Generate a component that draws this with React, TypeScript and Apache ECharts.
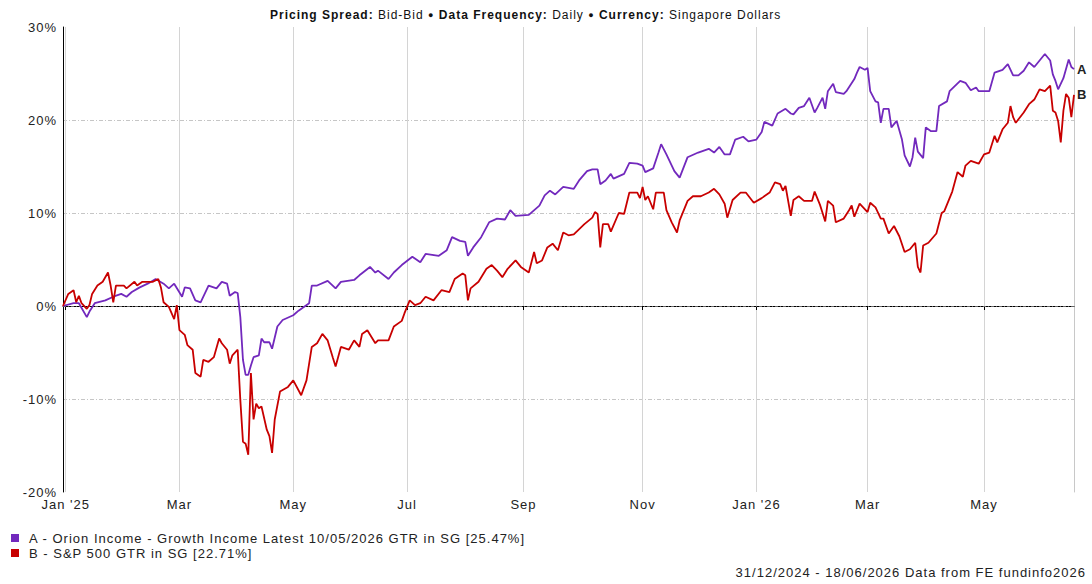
import React, { useEffect, useRef } from "react";
import * as echarts from "echarts";

const FONT = '"Liberation Sans", Arial, Helvetica, sans-serif';
// Extra tracking applied to every label (the chart's text is set slightly wide)
const TRACKING = 1;

const START_DATE = "2024-12-31";
const END_DATE = "2026-06-18";
const MONTH_NAMES = ["Jan", "Feb", "Mar", "Apr", "May", "Jun", "Jul", "Aug", "Sep", "Oct", "Nov", "Dec"];

const Y_MIN = -20;
const Y_MAX = 30;
const Y_STEP = 10;

const COLOR_A = "#7229bd";
const COLOR_B = "#c80000";

const NAME_A = "A - Orion Income - Growth Income Latest 10/05/2026 GTR in SG [25.47%]";
const NAME_B = "B - S&P 500 GTR in SG [22.71%]";
const FOOTER = "31/12/2024 - 18/06/2026 Data from FE fundinfo2026";

// Cumulative total return (%), fund A
const fundA: [string, number][] = [
  ["2024-12-31", 0.0], ["2025-01-06", 0.3], ["2025-01-08", 0.3], ["2025-01-13", -1.2], ["2025-01-14", -0.6],
  ["2025-01-16", 0.3], ["2025-01-22", 0.6], ["2025-01-27", 1.0], ["2025-01-30", 1.3], ["2025-02-03", 1.0],
  ["2025-02-05", 1.5], ["2025-02-10", 2.0], ["2025-02-13", 2.4], ["2025-02-18", 2.9], ["2025-02-21", 2.4],
  ["2025-02-25", 1.9], ["2025-02-27", 2.4], ["2025-03-04", 1.0], ["2025-03-05", 2.0], ["2025-03-07", 1.9],
  ["2025-03-11", 0.6], ["2025-03-13", 0.4], ["2025-03-18", 2.2], ["2025-03-21", 1.9], ["2025-03-25", 2.6],
  ["2025-03-27", 2.4], ["2025-03-28", 1.1], ["2025-04-01", 1.5], ["2025-04-02", 1.4], ["2025-04-03", -1.2],
  ["2025-04-04", -5.8], ["2025-04-07", -7.4], ["2025-04-08", -7.4], ["2025-04-09", -6.4], ["2025-04-10", -5.5],
  ["2025-04-14", -5.3], ["2025-04-15", -3.5], ["2025-04-16", -3.9], ["2025-04-18", -3.9], ["2025-04-21", -4.6],
  ["2025-04-23", -2.2], ["2025-04-25", -1.5], ["2025-05-01", -1.0], ["2025-05-05", -0.5], ["2025-05-09", 0.3],
  ["2025-05-12", 2.2], ["2025-05-14", 2.2], ["2025-05-20", 2.7], ["2025-05-23", 1.9], ["2025-05-27", 2.6],
  ["2025-06-03", 2.8], ["2025-06-05", 3.3], ["2025-06-11", 4.2], ["2025-06-13", 3.6], ["2025-06-16", 3.8],
  ["2025-06-20", 2.9], ["2025-06-24", 3.6], ["2025-06-27", 4.4], ["2025-07-03", 5.3], ["2025-07-08", 4.7],
  ["2025-07-10", 5.6], ["2025-07-17", 5.4], ["2025-07-22", 6.0], ["2025-07-24", 7.4], ["2025-07-29", 7.0],
  ["2025-07-31", 6.9], ["2025-08-01", 5.4], ["2025-08-05", 6.3], ["2025-08-08", 7.4], ["2025-08-13", 9.0],
  ["2025-08-18", 9.4], ["2025-08-21", 9.3], ["2025-08-25", 10.3], ["2025-08-27", 9.7], ["2025-09-03", 9.8],
  ["2025-09-09", 10.8], ["2025-09-11", 11.9], ["2025-09-15", 12.4], ["2025-09-17", 12.0], ["2025-09-22", 12.8],
  ["2025-09-26", 12.6], ["2025-09-30", 13.5], ["2025-10-03", 14.5], ["2025-10-07", 14.7], ["2025-10-09", 14.7],
  ["2025-10-10", 13.1], ["2025-10-14", 13.5], ["2025-10-16", 14.2], ["2025-10-17", 13.7], ["2025-10-23", 14.2],
  ["2025-10-27", 15.4], ["2025-10-30", 15.3], ["2025-11-03", 15.1], ["2025-11-04", 14.4], ["2025-11-07", 14.8],
  ["2025-11-11", 16.5], ["2025-11-12", 17.4], ["2025-11-14", 16.3], ["2025-11-19", 14.5], ["2025-11-21", 13.8],
  ["2025-11-26", 16.0], ["2025-12-02", 16.5], ["2025-12-08", 16.9], ["2025-12-10", 16.5], ["2025-12-12", 17.1],
  ["2025-12-16", 16.3], ["2025-12-18", 16.3], ["2025-12-22", 17.9], ["2025-12-25", 18.2], ["2025-12-29", 17.7],
  ["2026-01-01", 17.9], ["2026-01-05", 18.7], ["2026-01-06", 19.8], ["2026-01-09", 19.4], ["2026-01-13", 20.7],
  ["2026-01-16", 21.2], ["2026-01-20", 20.7], ["2026-01-21", 20.6], ["2026-01-23", 21.3], ["2026-01-27", 21.5],
  ["2026-01-29", 22.4], ["2026-02-02", 20.8], ["2026-02-03", 21.3], ["2026-02-05", 22.4], ["2026-02-06", 21.2],
  ["2026-02-09", 23.1], ["2026-02-11", 23.9], ["2026-02-12", 23.0], ["2026-02-17", 22.8], ["2026-02-18", 23.1],
  ["2026-02-23", 24.4], ["2026-02-24", 25.1], ["2026-02-25", 25.7], ["2026-02-27", 25.4], ["2026-03-02", 25.6],
  ["2026-03-03", 23.1], ["2026-03-05", 22.0], ["2026-03-06", 21.9], ["2026-03-09", 19.7], ["2026-03-10", 21.2],
  ["2026-03-12", 21.2], ["2026-03-13", 19.2], ["2026-03-17", 19.9], ["2026-03-19", 17.9], ["2026-03-20", 16.2],
  ["2026-03-24", 15.0], ["2026-03-25", 16.0], ["2026-03-26", 18.1], ["2026-03-27", 16.6], ["2026-03-31", 15.9],
  ["2026-04-01", 19.2], ["2026-04-03", 18.8], ["2026-04-07", 18.8], ["2026-04-08", 21.5], ["2026-04-13", 22.0],
  ["2026-04-14", 23.1], ["2026-04-20", 24.2], ["2026-04-22", 24.0], ["2026-04-24", 23.2], ["2026-04-28", 23.5],
  ["2026-04-29", 23.1], ["2026-05-05", 23.1], ["2026-05-07", 25.1], ["2026-05-12", 25.4], ["2026-05-14", 26.0],
  ["2026-05-18", 24.8], ["2026-05-20", 24.8], ["2026-05-22", 25.3], ["2026-05-26", 26.2], ["2026-05-28", 25.7],
  ["2026-06-01", 26.4], ["2026-06-03", 27.1], ["2026-06-05", 26.4], ["2026-06-08", 24.9], ["2026-06-09", 24.2],
  ["2026-06-10", 23.3], ["2026-06-12", 24.5], ["2026-06-16", 26.5], ["2026-06-17", 25.7], ["2026-06-18", 25.47],
];

// Cumulative total return (%), index B
const indexB: [string, number][] = [
  ["2024-12-31", 0.0], ["2025-01-02", 1.3], ["2025-01-06", 1.7], ["2025-01-07", 0.4], ["2025-01-08", 1.1],
  ["2025-01-09", 0.3], ["2025-01-13", -0.3], ["2025-01-14", 0.1], ["2025-01-15", 1.3], ["2025-01-17", 2.2],
  ["2025-01-21", 2.6], ["2025-01-23", 3.6], ["2025-01-24", 2.2], ["2025-01-27", 0.4], ["2025-01-28", 2.2],
  ["2025-01-31", 2.2], ["2025-02-03", 1.9], ["2025-02-06", 2.6], ["2025-02-07", 2.2], ["2025-02-11", 2.6],
  ["2025-02-17", 2.6], ["2025-02-19", 2.9], ["2025-02-20", 2.0], ["2025-02-21", 0.4], ["2025-02-25", -0.1],
  ["2025-02-27", -1.4], ["2025-02-28", 0.1], ["2025-03-03", -2.6], ["2025-03-05", -3.1], ["2025-03-06", -4.2],
  ["2025-03-10", -4.7], ["2025-03-11", -7.2], ["2025-03-13", -7.6], ["2025-03-14", -5.8], ["2025-03-18", -6.0],
  ["2025-03-20", -5.5], ["2025-03-24", -3.5], ["2025-03-25", -4.0], ["2025-03-27", -4.7], ["2025-03-28", -6.2],
  ["2025-03-31", -5.3], ["2025-04-02", -4.7], ["2025-04-03", -10.1], ["2025-04-04", -14.6], ["2025-04-07", -14.8],
  ["2025-04-08", -16.0], ["2025-04-09", -7.2], ["2025-04-10", -12.2], ["2025-04-11", -10.5], ["2025-04-14", -11.0],
  ["2025-04-15", -10.8], ["2025-04-17", -13.3], ["2025-04-18", -14.0], ["2025-04-21", -15.8], ["2025-04-22", -12.2],
  ["2025-04-24", -9.2], ["2025-04-29", -8.7], ["2025-05-01", -8.0], ["2025-05-06", -9.6], ["2025-05-08", -8.0],
  ["2025-05-12", -4.4], ["2025-05-14", -4.0], ["2025-05-16", -3.0], ["2025-05-20", -3.7], ["2025-05-22", -5.6],
  ["2025-05-23", -6.5], ["2025-05-27", -4.4], ["2025-05-30", -4.7], ["2025-06-03", -3.7], ["2025-06-05", -4.4],
  ["2025-06-06", -3.0], ["2025-06-10", -2.6], ["2025-06-13", -4.0], ["2025-06-16", -3.7], ["2025-06-20", -3.7],
  ["2025-06-24", -2.2], ["2025-06-27", -1.6], ["2025-06-30", -0.8], ["2025-07-02", 0.6], ["2025-07-04", 0.1],
  ["2025-07-08", 0.3], ["2025-07-10", 1.0], ["2025-07-15", 0.6], ["2025-07-18", 1.7], ["2025-07-23", 1.5],
  ["2025-07-25", 2.9], ["2025-07-30", 3.5], ["2025-07-31", 3.3], ["2025-08-01", 0.6], ["2025-08-04", 1.9],
  ["2025-08-07", 2.6], ["2025-08-12", 4.0], ["2025-08-14", 4.4], ["2025-08-18", 3.8], ["2025-08-20", 3.1],
  ["2025-08-22", 4.0], ["2025-08-27", 4.9], ["2025-08-29", 4.2], ["2025-09-03", 3.6], ["2025-09-05", 5.8],
  ["2025-09-08", 4.6], ["2025-09-10", 4.9], ["2025-09-12", 6.3], ["2025-09-16", 6.7], ["2025-09-18", 6.0],
  ["2025-09-22", 7.9], ["2025-09-24", 7.6], ["2025-09-26", 7.7], ["2025-10-02", 8.8], ["2025-10-07", 9.5],
  ["2025-10-08", 10.1], ["2025-10-09", 9.9], ["2025-10-10", 6.3], ["2025-10-13", 8.8], ["2025-10-15", 8.8],
  ["2025-10-16", 8.0], ["2025-10-21", 10.0], ["2025-10-23", 9.9], ["2025-10-27", 12.2], ["2025-10-30", 12.2],
  ["2025-10-31", 11.6], ["2025-11-03", 12.8], ["2025-11-04", 11.4], ["2025-11-05", 11.8], ["2025-11-07", 10.4],
  ["2025-11-10", 12.2], ["2025-11-13", 12.2], ["2025-11-14", 10.3], ["2025-11-18", 9.0], ["2025-11-20", 7.9],
  ["2025-11-21", 9.2], ["2025-11-26", 11.3], ["2025-11-28", 11.8], ["2025-12-03", 11.8], ["2025-12-08", 12.2],
  ["2025-12-10", 12.6], ["2025-12-12", 12.0], ["2025-12-16", 11.0], ["2025-12-17", 9.5], ["2025-12-19", 11.4],
  ["2025-12-24", 12.2], ["2025-12-26", 12.2], ["2025-12-31", 11.1], ["2026-01-05", 11.6], ["2026-01-08", 12.2],
  ["2026-01-12", 13.3], ["2026-01-14", 13.1], ["2026-01-15", 12.4], ["2026-01-16", 12.9], ["2026-01-20", 9.7],
  ["2026-01-21", 11.4], ["2026-01-23", 11.8], ["2026-01-27", 11.3], ["2026-01-30", 11.3], ["2026-02-02", 12.3],
  ["2026-02-04", 10.9], ["2026-02-05", 10.0], ["2026-02-06", 9.1], ["2026-02-09", 11.3], ["2026-02-11", 10.8],
  ["2026-02-12", 9.0], ["2026-02-17", 9.4], ["2026-02-19", 10.3], ["2026-02-20", 10.8], ["2026-02-23", 9.6],
  ["2026-02-25", 11.0], ["2026-03-02", 10.1], ["2026-03-03", 11.1], ["2026-03-05", 10.6], ["2026-03-09", 9.4],
  ["2026-03-10", 9.4], ["2026-03-12", 7.8], ["2026-03-16", 8.6], ["2026-03-18", 7.5], ["2026-03-20", 5.8],
  ["2026-03-24", 6.1], ["2026-03-26", 6.8], ["2026-03-27", 4.2], ["2026-03-30", 3.6], ["2026-03-31", 6.5],
  ["2026-04-02", 6.8], ["2026-04-07", 7.8], ["2026-04-09", 10.0], ["2026-04-10", 10.2], ["2026-04-15", 12.3],
  ["2026-04-17", 14.4], ["2026-04-21", 13.9], ["2026-04-22", 15.1], ["2026-04-24", 15.6], ["2026-04-29", 15.3],
  ["2026-05-01", 16.3], ["2026-05-05", 16.5], ["2026-05-07", 18.3], ["2026-05-08", 17.6], ["2026-05-12", 19.0],
  ["2026-05-14", 19.7], ["2026-05-15", 21.5], ["2026-05-18", 20.3], ["2026-05-19", 19.7], ["2026-05-22", 20.8],
  ["2026-05-26", 21.7], ["2026-05-28", 22.2], ["2026-06-01", 23.3], ["2026-06-03", 23.1], ["2026-06-05", 23.7],
  ["2026-06-08", 21.0], ["2026-06-09", 20.8], ["2026-06-10", 19.9], ["2026-06-11", 17.6], ["2026-06-12", 21.0],
  ["2026-06-15", 22.8], ["2026-06-16", 22.4], ["2026-06-17", 20.3], ["2026-06-18", 22.71],
];

// Text measurement that accounts for the extra tracking, so ECharts lays out
// labels with the same widths the browser draws them at.
let measureCtx: CanvasRenderingContext2D | null = null;
const setPlatformAPI = (echarts as any).setPlatformAPI;
if (typeof setPlatformAPI === "function") {
  setPlatformAPI({
    measureText(text: string, font?: string) {
      if (!measureCtx) measureCtx = document.createElement("canvas").getContext("2d");
      if (!measureCtx) return { width: text.length * 7 };
      measureCtx.font = font || "12px sans-serif";
      return { width: measureCtx.measureText(text).width + TRACKING * text.length };
    },
  });
}

// Weekday calendar used as the category axis (one slot per trading day)
function weekdayCalendar(start: string, end: string): string[] {
  const out: string[] = [];
  const d = new Date(start + "T00:00:00Z");
  const last = new Date(end + "T00:00:00Z");
  while (d.getTime() <= last.getTime()) {
    const dow = d.getUTCDay();
    if (dow !== 0 && dow !== 6) out.push(d.toISOString().slice(0, 10));
    d.setUTCDate(d.getUTCDate() + 1);
  }
  return out;
}

const days = weekdayCalendar(START_DATE, END_DATE);

// First trading day of every second month (Jan, Mar, May, ...)
const monthTicks = new Set<number>();
days.forEach((day, i) => {
  if (i === 0) return;
  const m = Number(day.slice(5, 7)) - 1;
  const prev = Number(days[i - 1].slice(5, 7)) - 1;
  if (m !== prev && m % 2 === 0) monthTicks.add(i);
});

function tickLabel(i: number): string {
  const day = days[i];
  const m = Number(day.slice(5, 7)) - 1;
  return m === 0 ? `Jan '${day.slice(2, 4)}` : MONTH_NAMES[m];
}

const isTick = (i: number) => monthTicks.has(i);

function toPoints(rows: [string, number][]): [number, number][] {
  return rows
    .map(([d, v]) => [days.indexOf(d), v] as [number, number])
    .filter(([i]) => i >= 0);
}

export default function App() {
  const ref = useRef<HTMLDivElement>(null);

  useEffect(() => {
    if (!ref.current) return;
    const chart = echarts.init(ref.current, undefined, { renderer: "svg" });

    const endLabel = (text: string) => ({
      show: true,
      formatter: text,
      fontFamily: FONT,
      fontSize: 13,
      fontWeight: "bold" as const,
      color: "#222",
      distance: 3,
    });

    chart.setOption({
      animation: false,
      backgroundColor: "#fff",
      textStyle: { fontFamily: FONT },
      title: {
        text:
          "{b|Pricing Spread:} Bid-Bid {d|●} {b|Data Frequency:} Daily {d|●} {b|Currency:} Singapore Dollars",
        left: 265,
        top: 3,
        textStyle: {
          fontFamily: FONT,
          fontSize: 12,
          fontWeight: "normal",
          color: "#111",
          rich: {
            b: { fontFamily: FONT, fontSize: 12, fontWeight: "bold", color: "#111" },
            d: { fontFamily: FONT, fontSize: 9, color: "#111" },
          },
        },
      },
      grid: { left: 63, right: 18, top: 27, bottom: 92, containLabel: false },
      legend: {
        orient: "vertical",
        left: 6,
        top: 526,
        itemWidth: 8,
        itemHeight: 8,
        itemGap: 1,
        icon: "rect",
        selectedMode: false,
        textStyle: { fontFamily: FONT, fontSize: 13, color: "#222", padding: [0, 0, 0, 5] },
        data: [NAME_A, NAME_B],
      },
      xAxis: {
        type: "category",
        data: days,
        boundaryGap: false,
        axisLine: { lineStyle: { color: "#000", width: 1 } },
        axisTick: { show: true, interval: isTick, length: 4, lineStyle: { color: "#000" } },
        axisLabel: {
          interval: isTick,
          formatter: (_v: string, i: number) => tickLabel(i),
          fontFamily: FONT,
          fontSize: 13,
          lineHeight: 12,
          color: "#222",
          margin: 6,
        },
        splitLine: { show: true, interval: isTick, lineStyle: { color: "#d4d4d4", width: 1 } },
      },
      yAxis: [
        {
          type: "value",
          min: Y_MIN,
          max: Y_MAX,
          interval: Y_STEP,
          axisLine: { show: true, lineStyle: { color: "#000", width: 1 } },
          axisTick: { show: false },
          axisLabel: {
            formatter: "{value}%",
            fontFamily: FONT,
            fontSize: 13,
            lineHeight: 12,
            color: "#222",
            margin: 6,
          },
          splitLine: {
            show: true,
            showMaxLine: false,
            showMinLine: false,
            lineStyle: { color: "#c6c6c6", width: 1, type: [4, 2, 1, 2] },
          },
        },
        {
          type: "value",
          position: "right",
          min: Y_MIN,
          max: Y_MAX,
          interval: Y_STEP,
          axisLine: { show: true, lineStyle: { color: "#c8c8c8", width: 1 } },
          axisTick: { show: false },
          axisLabel: { show: false },
          splitLine: { show: false },
        },
      ],
      graphic: [
        {
          type: "text",
          right: 6,
          top: 565,
          style: { text: FOOTER, fontFamily: FONT, fontSize: 13, fill: "#222" },
        },
      ],
      series: [
        {
          name: NAME_A,
          type: "line",
          data: toPoints(fundA),
          showSymbol: false,
          symbol: "none",
          color: COLOR_A,
          lineStyle: { color: COLOR_A, width: 1.8 },
          endLabel: endLabel("A"),
          z: 3,
          markLine: {
            silent: true,
            symbol: "none",
            label: { show: false },
            lineStyle: { color: "#666", width: 1, type: [3, 2, 1, 2] },
            data: [{ yAxis: 0 }],
            z: 1,
          },
        },
        {
          name: NAME_B,
          type: "line",
          data: toPoints(indexB),
          showSymbol: false,
          symbol: "none",
          color: COLOR_B,
          lineStyle: { color: COLOR_B, width: 1.8 },
          endLabel: endLabel("B"),
          z: 4,
        },
      ],
    });

    return () => chart.dispose();
  }, []);

  return (
    <>
      <style>{`#fe-chart text { letter-spacing: ${TRACKING}px; }`}</style>
      <div
        id="fe-chart"
        ref={ref}
        style={{ position: "fixed", left: 0, top: 0, width: 1092, height: 584, background: "#fff" }}
      />
    </>
  );
}
